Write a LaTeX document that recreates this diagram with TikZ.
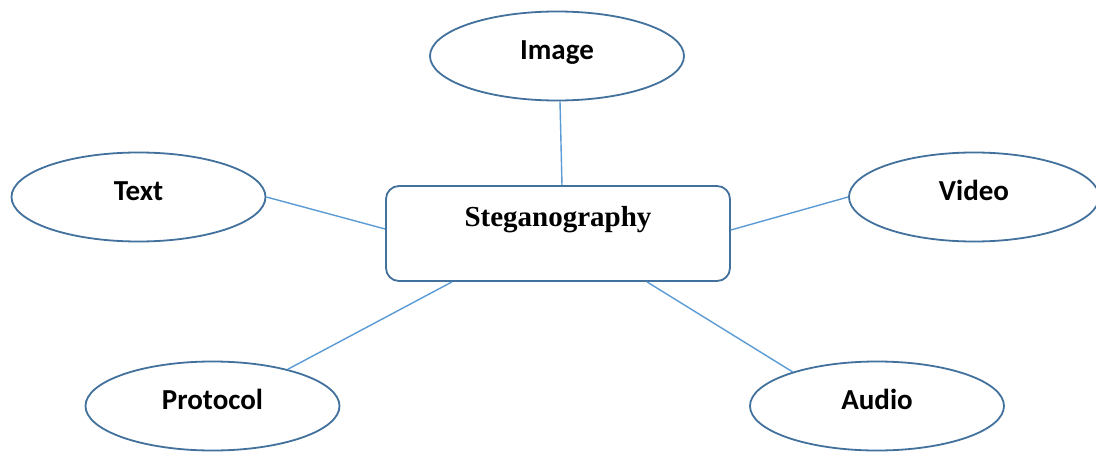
\documentclass[tikz,border=0pt]{standalone}
\usepackage{fontspec}
\setmainfont{Liberation Serif}
\newfontfamily\calib{Carlito}
\usetikzlibrary{shapes.geometric}
\definecolor{edgeblue}{HTML}{41719C}
\definecolor{linkblue}{HTML}{5B9BD5}
\begin{document}
\begin{tikzpicture}[x=1pt,y=-1pt,
  topic/.style={ellipse, draw=edgeblue, line width=1.8pt, inner sep=0pt,
    minimum width=254pt, minimum height=89pt,
    font=\calib\fontsize{29}{34}\selectfont\bfseries,
    text height=18.7pt, text depth=11pt},
  core/.style={rectangle, rounded corners=13pt, draw=edgeblue, line width=1.8pt,
    inner sep=0pt, minimum width=344pt, minimum height=95pt,
    font=\fontsize{29}{34}\selectfont\bfseries,
    text height=19pt, text depth=34pt},
  link/.style={draw=linkblue, line width=1.4pt}]
\useasboundingbox (0,0) rectangle (1096,452);
\fill[white] (0,0) rectangle (1096,452);

\node[core] (steg) at (558,233.5) {Steganography};

\node[topic] (img) at (557,56) {Image};
\node[topic] (txt) at (138.5,197) {Text};
\node[topic, minimum width=250pt] (vid) at (974,197) {Video};
\node[topic] (pro) at (212.5,406) {Protocol};
\node[topic] (aud) at (877,406) {Audio};

\draw[link] ([xshift=3pt]img.south) -- ([xshift=4pt]steg.north);
\draw[link] (txt.east) -- ([yshift=4.5pt]steg.west);
\draw[link] (vid.west) -- ([yshift=3.5pt]steg.east);
\draw[link] (pro.26) -- ([xshift=-106pt]steg.south);
\draw[link] (aud.158) -- ([xshift=89pt]steg.south);
\end{tikzpicture}
\end{document}
